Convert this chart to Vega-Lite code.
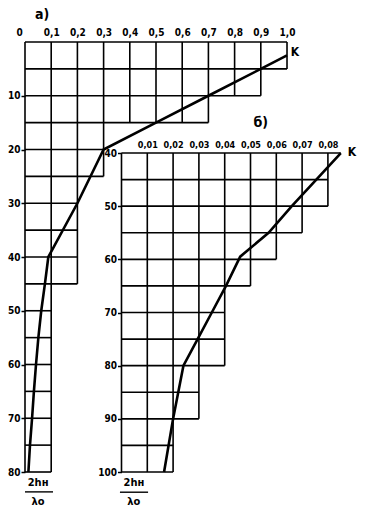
{
  "$schema": "https://vega.github.io/schema/vega-lite/v6.json",
  "width": 330,
  "height": 430,
  "autosize": "none",
  "padding": {"left": 25, "top": 42, "right": 12, "bottom": 40},
  "background": "white",
  "config": {
    "view": {"stroke": null},
    "axis": {"grid": false, "domain": false, "labelFont": "DejaVu Sans Condensed", "labelFontWeight": "bold", "labelColor": "black", "tickColor": "black", "tickWidth": 1.5, "labelOverlap": false, "labelBound": false},
    "text": {"font": "DejaVu Sans Condensed", "fontWeight": "bold", "color": "black"}
  },
  "datasets": {
    "a_vert": [
      {"x": 0, "y": 0, "y2": 80}, {"x": 0.1, "y": 0, "y2": 80}, {"x": 0.2, "y": 0, "y2": 45},
      {"x": 0.3, "y": 0, "y2": 25}, {"x": 0.4, "y": 0, "y2": 15}, {"x": 0.5, "y": 0, "y2": 15},
      {"x": 0.6, "y": 0, "y2": 15}, {"x": 0.7, "y": 0, "y2": 15}, {"x": 0.8, "y": 0, "y2": 10},
      {"x": 0.9, "y": 0, "y2": 10}, {"x": 1.0, "y": 0, "y2": 5}
    ],
    "a_horz": [
      {"y": 0, "x": 0, "x2": 1.0}, {"y": 5, "x": 0, "x2": 1.0}, {"y": 10, "x": 0, "x2": 0.9},
      {"y": 15, "x": 0, "x2": 0.7}, {"y": 20, "x": 0, "x2": 0.3}, {"y": 25, "x": 0, "x2": 0.3},
      {"y": 30, "x": 0, "x2": 0.2}, {"y": 35, "x": 0, "x2": 0.2}, {"y": 40, "x": 0, "x2": 0.2},
      {"y": 45, "x": 0, "x2": 0.2}, {"y": 50, "x": 0, "x2": 0.1}, {"y": 55, "x": 0, "x2": 0.1},
      {"y": 60, "x": 0, "x2": 0.1}, {"y": 65, "x": 0, "x2": 0.1}, {"y": 70, "x": 0, "x2": 0.1},
      {"y": 75, "x": 0, "x2": 0.1}, {"y": 80, "x": 0, "x2": 0.1}
    ],
    "a_curve": [
      {"x": 1.0, "y": 2.5}, {"x": 0.9, "y": 5}, {"x": 0.7, "y": 10}, {"x": 0.5, "y": 15},
      {"x": 0.3, "y": 20}, {"x": 0.2, "y": 30}, {"x": 0.089, "y": 40}, {"x": 0.076, "y": 45},
      {"x": 0.062, "y": 50}, {"x": 0.051, "y": 55}, {"x": 0.042, "y": 60}, {"x": 0.034, "y": 65},
      {"x": 0.027, "y": 70}, {"x": 0.019, "y": 75}, {"x": 0.013, "y": 80}
    ],
    "a_title": [{"x": 0.065, "y": -5, "label": "а)"}],
    "a_k": [{"x": 1.03, "y": 1.9, "label": "K"}],
    "a_frac": [{"x": 0.05, "y": 82, "label": "2hн"}, {"x": 0.05, "y": 85.6, "label": "λо"}],
    "a_bar": [{"x": 0, "x2": 0.107, "y": 83.7}],
    "b_vert": [
      {"x": 0, "y": 40, "y2": 100}, {"x": 0.01, "y": 40, "y2": 100}, {"x": 0.02, "y": 40, "y2": 100},
      {"x": 0.03, "y": 40, "y2": 90}, {"x": 0.04, "y": 40, "y2": 80}, {"x": 0.05, "y": 40, "y2": 65},
      {"x": 0.06, "y": 40, "y2": 60}, {"x": 0.07, "y": 40, "y2": 55}, {"x": 0.08, "y": 40, "y2": 50}
    ],
    "b_horz": [
      {"y": 40, "x": 0, "x2": 0.085}, {"y": 45, "x": 0, "x2": 0.08}, {"y": 50, "x": 0, "x2": 0.08},
      {"y": 55, "x": 0, "x2": 0.07}, {"y": 60, "x": 0, "x2": 0.06}, {"y": 65, "x": 0, "x2": 0.05},
      {"y": 70, "x": 0, "x2": 0.04}, {"y": 75, "x": 0, "x2": 0.04}, {"y": 80, "x": 0, "x2": 0.04},
      {"y": 85, "x": 0, "x2": 0.03}, {"y": 90, "x": 0, "x2": 0.03}, {"y": 95, "x": 0, "x2": 0.02},
      {"y": 100, "x": 0, "x2": 0.02}
    ],
    "b_curve": [
      {"x": 0.085, "y": 40}, {"x": 0.0755, "y": 45}, {"x": 0.066, "y": 50}, {"x": 0.057, "y": 55},
      {"x": 0.046, "y": 59.5}, {"x": 0.0405, "y": 65}, {"x": 0.035, "y": 70}, {"x": 0.0295, "y": 75},
      {"x": 0.024, "y": 80}, {"x": 0.02, "y": 90}, {"x": 0.0165, "y": 100}
    ],
    "b_title": [{"x": 0.054, "y": 34.4, "label": "б)"}],
    "b_k": [{"x": 0.0893, "y": 39.8, "label": "K"}],
    "b_frac": [{"x": 0.0048, "y": 102.1, "label": "2hн"}, {"x": 0.0048, "y": 105.6, "label": "λо"}],
    "b_bar": [{"x": -0.0006, "x2": 0.0103, "y": 103.8}]
  },
  "resolve": {"scale": {"x": "independent", "y": "independent"}, "axis": {"x": "independent", "y": "independent"}},
  "layer": [
    {
      "layer": [
        {
          "data": {"name": "a_vert"},
          "mark": {"type": "rule", "strokeWidth": 1.6, "color": "black"},
          "encoding": {
            "x": {"field": "x", "type": "quantitative",
              "scale": {"domain": [0, 1.2595], "nice": false, "zero": false},
              "axis": {"orient": "top", "title": null, "values": [0, 0.1, 0.2, 0.3, 0.4, 0.5, 0.6, 0.7, 0.8, 0.9, 1.0],
                "tickCount": 30, "ticks": false, "labelPadding": 5, "labelFontSize": 10, "labelOverlap": false,
                "labelOffset": {"condition": {"test": "datum.value == 0", "value": -9}, "value": 0},
                "labelExpr": "datum.value == 0 ? '0' : replace(format(datum.value, '.1f'), '.', ',')"}},
            "y": {"field": "y", "type": "quantitative",
              "scale": {"domain": [0, 80], "reverse": true, "nice": false, "zero": false},
              "axis": {"orient": "left", "title": null, "values": [10, 20, 30, 40, 50, 60, 70, 80],
                "tickCount": 30, "tickSize": 4, "labelPadding": 1, "labelFontSize": 10, "labelOverlap": false}},
            "y2": {"field": "y2"}
          }
        },
        {
          "data": {"name": "a_horz"},
          "mark": {"type": "rule", "strokeWidth": 1.6, "color": "black"},
          "encoding": {
            "x": {"field": "x", "type": "quantitative"},
            "x2": {"field": "x2"},
            "y": {"field": "y", "type": "quantitative"}
          }
        },
        {
          "data": {"name": "a_curve"},
          "mark": {"type": "line", "strokeWidth": 2.6, "color": "black"},
          "encoding": {
            "x": {"field": "x", "type": "quantitative"},
            "y": {"field": "y", "type": "quantitative"},
            "order": {"field": "y", "type": "quantitative"}
          }
        },
        {
          "data": {"name": "a_title"},
          "mark": {"type": "text", "fontSize": 14, "align": "center", "baseline": "middle"},
          "encoding": {
            "x": {"field": "x", "type": "quantitative"},
            "y": {"field": "y", "type": "quantitative"},
            "text": {"field": "label"}
          }
        },
        {
          "data": {"name": "a_k"},
          "mark": {"type": "text", "fontSize": 12, "align": "center", "baseline": "middle"},
          "encoding": {
            "x": {"field": "x", "type": "quantitative"},
            "y": {"field": "y", "type": "quantitative"},
            "text": {"field": "label"}
          }
        },
        {
          "data": {"name": "a_frac"},
          "mark": {"type": "text", "fontSize": 11, "align": "center", "baseline": "middle"},
          "encoding": {
            "x": {"field": "x", "type": "quantitative"},
            "y": {"field": "y", "type": "quantitative"},
            "text": {"field": "label"}
          }
        },
        {
          "data": {"name": "a_bar"},
          "mark": {"type": "rule", "strokeWidth": 1.4, "color": "black"},
          "encoding": {
            "x": {"field": "x", "type": "quantitative"},
            "x2": {"field": "x2"},
            "y": {"field": "y", "type": "quantitative"}
          }
        }
      ]
    },
    {
      "layer": [
        {
          "data": {"name": "b_vert"},
          "mark": {"type": "rule", "strokeWidth": 1.6, "color": "black"},
          "encoding": {
            "x": {"field": "x", "type": "quantitative",
              "scale": {"domain": [-0.0374, 0.0905], "nice": false, "zero": false},
              "axis": {"orient": "top", "offset": -111, "title": null, "values": [0.01, 0.02, 0.03, 0.04, 0.05, 0.06, 0.07, 0.08],
                "tickCount": 30, "ticks": false, "labelPadding": 4, "labelFontSize": 9, "labelOverlap": false,
                "labelExpr": "replace(format(datum.value, '.2f'), '.', ',')"}},
            "y": {"field": "y", "type": "quantitative",
              "scale": {"domain": [19.12, 100], "reverse": true, "nice": false, "zero": false},
              "axis": {"orient": "left", "offset": -96.5, "title": null, "values": [40, 50, 60, 70, 80, 90, 100],
                "tickCount": 30, "tickSize": 4, "labelPadding": 1, "labelFontSize": 10, "labelOverlap": false}},
            "y2": {"field": "y2"}
          }
        },
        {
          "data": {"name": "b_horz"},
          "mark": {"type": "rule", "strokeWidth": 1.6, "color": "black"},
          "encoding": {
            "x": {"field": "x", "type": "quantitative"},
            "x2": {"field": "x2"},
            "y": {"field": "y", "type": "quantitative"}
          }
        },
        {
          "data": {"name": "b_curve"},
          "mark": {"type": "line", "strokeWidth": 2.6, "color": "black"},
          "encoding": {
            "x": {"field": "x", "type": "quantitative"},
            "y": {"field": "y", "type": "quantitative"},
            "order": {"field": "y", "type": "quantitative"}
          }
        },
        {
          "data": {"name": "b_title"},
          "mark": {"type": "text", "fontSize": 14, "align": "center", "baseline": "middle"},
          "encoding": {
            "x": {"field": "x", "type": "quantitative"},
            "y": {"field": "y", "type": "quantitative"},
            "text": {"field": "label"}
          }
        },
        {
          "data": {"name": "b_k"},
          "mark": {"type": "text", "fontSize": 12, "align": "center", "baseline": "middle"},
          "encoding": {
            "x": {"field": "x", "type": "quantitative"},
            "y": {"field": "y", "type": "quantitative"},
            "text": {"field": "label"}
          }
        },
        {
          "data": {"name": "b_frac"},
          "mark": {"type": "text", "fontSize": 11, "align": "center", "baseline": "middle"},
          "encoding": {
            "x": {"field": "x", "type": "quantitative"},
            "y": {"field": "y", "type": "quantitative"},
            "text": {"field": "label"}
          }
        },
        {
          "data": {"name": "b_bar"},
          "mark": {"type": "rule", "strokeWidth": 1.4, "color": "black"},
          "encoding": {
            "x": {"field": "x", "type": "quantitative"},
            "x2": {"field": "x2"},
            "y": {"field": "y", "type": "quantitative"}
          }
        }
      ]
    }
  ]
}
